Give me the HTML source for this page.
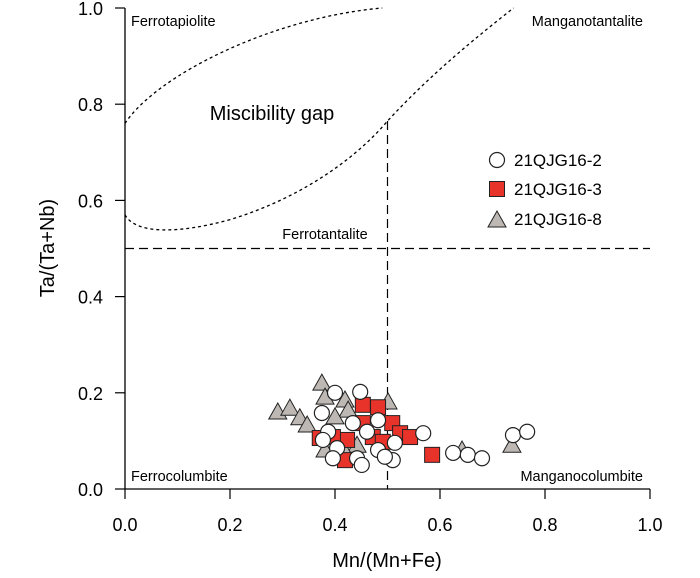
<!DOCTYPE html>
<html><head><meta charset="utf-8"><style>
body{margin:0;background:#fff;font-family:"Liberation Sans",Arial,sans-serif}
</style></head><body>
<svg width="700" height="573" xmlns="http://www.w3.org/2000/svg" font-family="Liberation Sans, Arial, sans-serif">
<g id="grid"></g>
<g id="marks"></g>
</svg>
<script>
const xTicks=[0,0.2,0.4,0.6,0.8,1.0];
const yTicks=[0,0.2,0.4,0.6,0.8,1.0];
const s2x=[0.400,0.448,0.375,0.482,0.434,0.461,0.387,0.377,0.404,0.514,0.568,0.482,0.442,0.396,0.510,0.495,0.451,0.625,0.653,0.680,0.739,0.766];
const s2y=[0.200,0.202,0.158,0.143,0.137,0.119,0.119,0.102,0.085,0.096,0.116,0.081,0.064,0.064,0.060,0.067,0.050,0.075,0.071,0.064,0.112,0.119];
const s3x=[0.453,0.482,0.509,0.453,0.371,0.524,0.543,0.472,0.423,0.419,0.585,0.491,0.396];
const s3y=[0.175,0.170,0.137,0.137,0.106,0.116,0.108,0.108,0.102,0.060,0.071,0.098,0.108];
const s8x=[0.375,0.291,0.314,0.333,0.347,0.381,0.419,0.425,0.400,0.381,0.501,0.442,0.415,0.737,0.642];
const s8y=[0.220,0.160,0.168,0.148,0.133,0.191,0.185,0.164,0.150,0.081,0.181,0.091,0.085,0.091,0.081];
const L=125,R=650,T=8,B=489;
const X=v=>L+v*(R-L), Y=v=>B-v*(B-T);
const NS="http://www.w3.org/2000/svg";
const svg=document.querySelector('svg'), g=document.getElementById('grid'), m=document.getElementById('marks');
function el(tag,attrs,parent,text){const e=document.createElementNS(NS,tag);for(const k in attrs)e.setAttribute(k,attrs[k]);if(text!==undefined)e.textContent=text;(parent||svg).appendChild(e);return e;}
let c=el('path',{d:`M${X(0)},${Y(0.76)} C${X(0.06)},${Y(0.86)} ${X(0.28)},${Y(0.98)} ${X(0.49)},${Y(1.0)}`,fill:'none',stroke:'#000','stroke-width':1.3,'stroke-dasharray':'3,3'},g);

c=el('path',{d:`M${X(0)},${Y(0.57)} C${X(0.02)},${Y(0.53)} ${X(0.10)},${Y(0.53)} ${X(0.2)},${Y(0.56)} C${X(0.35)},${Y(0.61)} ${X(0.45)},${Y(0.70)} ${X(0.5)},${Y(0.765)} C${X(0.58)},${Y(0.86)} ${X(0.67)},${Y(0.94)} ${X(0.74)},${Y(1.0)}`,fill:'none',stroke:'#000','stroke-width':1.3,'stroke-dasharray':'3,3'},g);

c=el('line',{x1:L,x2:R,y1:Y(0.5),y2:Y(0.5),stroke:'#000','stroke-width':1.2,'stroke-dasharray':'9,5'},g);

c=el('line',{x1:X(0.5),x2:X(0.5),y1:Y(0.765),y2:B,stroke:'#000','stroke-width':1.2,'stroke-dasharray':'9,5'},g);

c=el('line',{x1:L,x2:L,y1:T,y2:B,stroke:'#000','stroke-width':1.3},g);

c=el('line',{x1:L,x2:R,y1:B,y2:B,stroke:'#000','stroke-width':1.3},g);

xTicks.forEach(v=>{el('line',{x1:X(v),x2:X(v),y1:B,y2:B+10,stroke:'#000','stroke-width':1.2},g);
 const t=el('text',{x:X(v),y:B+42,'text-anchor':'middle','font-size':18},g,v.toFixed(1));
 });
yTicks.forEach(v=>{el('line',{x1:L-10,x2:L,y1:Y(v),y2:Y(v),stroke:'#000','stroke-width':1.2},g);
 const t=el('text',{x:L-22,y:Y(v)+7,'text-anchor':'end','font-size':18},g,v.toFixed(1));
 });
let t=el('text',{x:387,y:567,'text-anchor':'middle','font-size':20},g,'Mn/(Mn+Fe)');

t=el('text',{x:0,y:0,'text-anchor':'middle','font-size':20,transform:'translate(54,248) rotate(-90)'},g,'Ta/(Ta+Nb)');

[['Ferrotapiolite',131,26,'start',14.5],['Manganotantalite',643,26,'end',14.5],['Ferrotantalite',325,239,'middle',14.5],['Ferrocolumbite',131,481,'start',14.5],['Manganocolumbite',643,481,'end',14.5],['Miscibility gap',272,120,'middle',20]].forEach(a=>{
 const e=el('text',{x:a[1],y:a[2],'text-anchor':a[3],'font-size':a[4]},g,a[0]);
 });
function tri(cx,cy,p,name){const e=el('polygon',{points:`${cx},${cy-9} ${cx-9},${cy+7} ${cx+9},${cy+7}`,fill:'#bdb8b3',stroke:'#222','stroke-width':1},p);
 return e;}
function sq(cx,cy,p,name){const e=el('rect',{x:cx-7.5,y:cy-7.5,width:15,height:15,fill:'#e8332a',stroke:'#222','stroke-width':1},p);
 return e;}
function ci(cx,cy,p,name){const e=el('circle',{cx:cx,cy:cy,r:7.5,fill:'#fff',stroke:'#222','stroke-width':1.2},p);
 return e;}
s8x.forEach((v,i)=>tri(X(v),Y(s8y[i]),m,'point-21qjg16-8'));
s3x.forEach((v,i)=>sq(X(v),Y(s3y[i]),m,'point-21qjg16-3'));
s2x.forEach((v,i)=>ci(X(v),Y(s2y[i]),m,'point-21qjg16-2'));
const lg=el('g',{},svg);
ci(497,160,lg,'legend-marker-21qjg16-2');sq(497,189,lg,'legend-marker-21qjg16-3');tri(497,220,lg,'legend-marker-21qjg16-8');
[['21QJG16-2',166],['21QJG16-3',195],['21QJG16-8',225]].forEach(a=>{const e=el('text',{x:514,y:a[1],'font-size':17},lg,a[0]);
 });
</script>
</body></html>
